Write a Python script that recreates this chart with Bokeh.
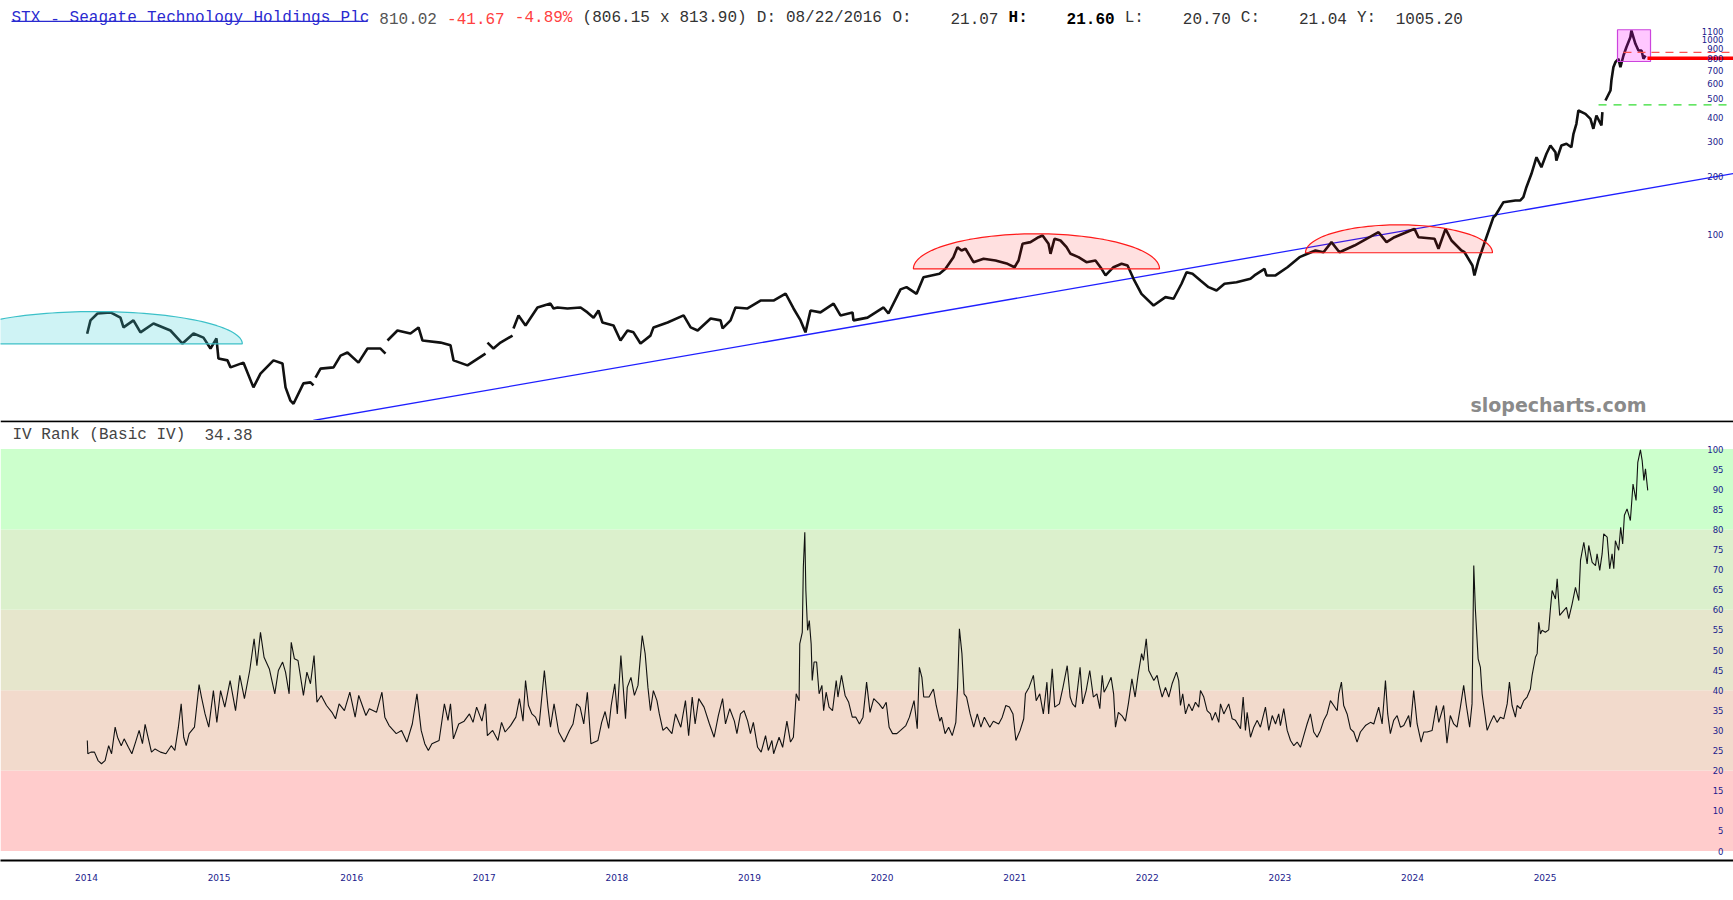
import math
import re
import numpy as np
from bokeh.plotting import figure
from bokeh.layouts import column
from bokeh.models import Range1d, BoxAnnotation, Span, FixedTicker
from bokeh.core.properties import value
from bokeh.embed import file_html
from bokeh.resources import INLINE

nan = float("nan")

# ---------------- data ----------------
price_points = [
    (2014.005, 31.1), (2014.030, 36.4), (2014.083, 39.5), (2014.181, 40.0), (2014.256, 37.6),
    (2014.279, 33.5), (2014.354, 36.4), (2014.407, 31.6), (2014.505, 35.1), (2014.633, 32.3),
    (2014.724, 27.7), (2014.807, 31.2), (2014.882, 29.7), (2014.935, 26.1), (2014.980, 29.4),
    (2014.995, 23.2), (2015.063, 22.7), (2015.086, 20.9), (2015.184, 22.1), (2015.259, 16.5),
    (2015.312, 19.4), (2015.410, 22.7), (2015.478, 21.9), (2015.501, 16.5), (2015.538, 14.1),
    (2015.561, 13.6), (2015.636, 17.3), (2015.689, 17.5), (2015.712, 16.9), (nan, nan),
    (2015.727, 18.5), (2015.765, 20.6), (2015.863, 20.9), (2015.916, 24.0), (2015.968, 24.9),
    (2016.051, 22.1), (2016.119, 26.1), (2016.217, 26.1), (2016.255, 24.6), (nan, nan),
    (2016.270, 28.7), (2016.345, 32.3), (2016.443, 31.2), (2016.504, 33.5), (2016.534, 28.7),
    (2016.670, 28.0), (2016.745, 27.1), (2016.768, 22.7), (2016.873, 21.4), (2017.009, 24.6),
    (nan, nan),
    (2017.024, 28.0), (2017.069, 26.1), (2017.122, 28.0), (2017.213, 30.4), (nan, nan),
    (2017.220, 33.1), (2017.258, 38.6), (2017.311, 34.3), (2017.401, 42.4), (2017.499, 44.4),
    (2017.522, 41.9), (2017.552, 42.4), (2017.627, 41.9), (2017.726, 42.4), (2017.778, 40.0),
    (2017.824, 37.6), (2017.861, 40.9), (2017.891, 35.5), (2017.974, 34.3), (2018.027, 28.7),
    (2018.080, 32.3), (2018.125, 31.6), (2018.178, 27.7), (2018.253, 30.4), (2018.276, 33.5),
    (2018.382, 35.5), (2018.503, 38.6), (2018.556, 33.5), (2018.609, 32.3), (2018.707, 37.2),
    (2018.782, 36.4), (2018.797, 33.1), (2018.857, 36.4), (2018.894, 42.4), (2018.985, 41.9),
    (2019.083, 46.0), (2019.181, 46.0), (2019.272, 50.0), (2019.332, 41.9), (2019.385, 36.4),
    (2019.422, 31.6), (2019.460, 40.9), (2019.535, 40.0), (2019.634, 44.4), (2019.686, 38.6),
    (2019.777, 40.0), (2019.784, 36.4), (2019.890, 37.6), (2020.011, 42.4), (2020.048, 39.5),
    (2020.139, 52.5), (2020.184, 53.9), (2020.260, 49.8), (2020.312, 60.6), (2020.433, 63.1),
    (2020.478, 66.9), (2020.538, 76.8), (2020.568, 86.4), (2020.599, 83.1), (2020.629, 84.8),
    (2020.689, 72.4), (2020.765, 75.3), (2020.855, 73.8), (2020.946, 71.0), (2020.999, 68.2),
    (2021.029, 73.8), (2021.059, 89.9), (2021.119, 91.7), (2021.180, 97.2), (2021.210, 99.2),
    (2021.255, 89.9), (2021.270, 79.9), (2021.300, 95.4), (2021.345, 93.5), (2021.391, 86.4),
    (2021.421, 79.9), (2021.481, 76.8), (2021.541, 72.4), (2021.609, 73.8), (2021.655, 66.9),
    (2021.685, 61.9), (2021.745, 68.2), (2021.806, 71.0), (2021.851, 69.6), (2021.896, 59.5),
    (2021.956, 49.8), (2022.047, 43.4), (2022.137, 47.9), (2022.198, 47.0), (2022.258, 56.1),
    (2022.296, 64.3), (2022.341, 63.1), (2022.401, 58.3), (2022.462, 53.9), (2022.522, 51.8),
    (2022.582, 56.1), (2022.673, 57.1), (2022.778, 59.5), (2022.808, 61.9), (2022.884, 66.9),
    (2022.899, 61.9), (2022.967, 61.9), (2023.057, 68.2), (2023.148, 76.8), (2023.208, 79.9),
    (2023.268, 83.1), (2023.329, 81.4), (2023.389, 91.7), (2023.449, 81.4), (2023.562, 88.1),
    (2023.653, 95.4), (2023.744, 103.1), (2023.804, 91.7), (2023.864, 97.2), (2023.985, 105.2),
    (2024.015, 107.3), (2024.045, 97.2), (2024.166, 95.4), (2024.196, 84.8), (2024.249, 107.3),
    (2024.294, 93.5), (2024.369, 83.1), (2024.392, 81.4), (2024.452, 69.6), (2024.467, 61.9),
    (2024.497, 73.8), (2024.519, 81.4), (2024.549, 93.5), (2024.610, 123.1), (2024.625, 125.6),
    (2024.648, 133.2), (2024.686, 147.0), (2024.776, 150.0), (2024.813, 150.0), (2024.836, 155.9),
    (2024.859, 175.4), (2024.897, 205.5), (2024.935, 250.0), (2024.972, 222.2), (2025.010, 260.3),
    (2025.040, 287.1), (2025.078, 265.2), (2025.085, 240.4), (2025.123, 287.1), (2025.161, 292.9),
    (2025.198, 281.4), (2025.214, 329.6), (2025.236, 370.9), (2025.251, 434.0), (2025.304, 417.4),
    (2025.342, 393.5), (2025.364, 349.6), (2025.387, 409.1), (2025.425, 363.5), (2025.432, 425.4),
    (nan, nan),
    (2025.455, 488.3), (2025.493, 549.5), (2025.500, 618.4), (2025.515, 723.6), (2025.530, 767.6),
    (2025.553, 799.1), (2025.568, 723.6), (2025.591, 830.9), (2025.613, 916.5), (2025.643, 1031.0),
    (2025.651, 1116.0), (2025.681, 953.9), (2025.704, 881.2), (2025.727, 881.2), (2025.742, 799.1),
    (2025.757, 830.9),
]

iv_points = [
    (2014.006, 27.5), (2014.010, 24.2), (2014.033, 24.6), (2014.060, 24.6), (2014.087, 22.5),
    (2014.113, 21.7), (2014.140, 22.5), (2014.167, 26.2), (2014.189, 24.2), (2014.216, 30.8),
    (2014.234, 28.3), (2014.262, 26.2), (2014.284, 27.9), (2014.316, 25.8), (2014.342, 24.2),
    (2014.370, 27.1), (2014.397, 30.0), (2014.422, 26.7), (2014.442, 31.5), (2014.464, 28.3),
    (2014.490, 24.6), (2014.517, 25.4), (2014.558, 24.6), (2014.599, 24.2), (2014.639, 26.2),
    (2014.666, 25.0), (2014.693, 30.8), (2014.714, 36.6), (2014.733, 28.3), (2014.752, 26.2),
    (2014.774, 29.2), (2014.814, 30.8), (2014.849, 41.4), (2014.867, 38.3), (2014.894, 34.1),
    (2014.922, 30.8), (2014.957, 39.9), (2014.983, 32.0), (2015.011, 39.9), (2015.043, 35.8),
    (2015.083, 42.4), (2015.124, 34.9), (2015.156, 43.7), (2015.191, 37.9), (2015.231, 44.9),
    (2015.264, 52.8), (2015.285, 46.1), (2015.312, 54.4), (2015.339, 48.2), (2015.379, 45.3),
    (2015.420, 39.1), (2015.447, 44.9), (2015.479, 47.0), (2015.501, 44.5), (2015.528, 39.1),
    (2015.544, 51.9), (2015.568, 47.8), (2015.595, 47.4), (2015.636, 38.7), (2015.662, 44.5),
    (2015.689, 41.6), (2015.716, 48.6), (2015.738, 37.0), (2015.770, 38.7), (2015.810, 36.2),
    (2015.851, 34.5), (2015.878, 32.9), (2015.905, 36.6), (2015.945, 34.9), (2015.986, 39.5),
    (2016.026, 33.3), (2016.053, 38.7), (2016.080, 36.2), (2016.107, 33.7), (2016.133, 35.4),
    (2016.187, 34.5), (2016.228, 39.5), (2016.250, 33.3), (2016.282, 31.2), (2016.336, 29.2),
    (2016.376, 30.0), (2016.416, 27.1), (2016.457, 31.6), (2016.492, 39.1), (2016.524, 30.0),
    (2016.551, 26.7), (2016.578, 25.0), (2016.605, 26.7), (2016.659, 27.5), (2016.699, 36.6),
    (2016.726, 32.5), (2016.745, 36.6), (2016.767, 27.9), (2016.807, 31.6), (2016.848, 32.3),
    (2016.888, 34.1), (2016.915, 32.0), (2016.942, 35.8), (2016.982, 32.3), (2017.009, 36.6),
    (2017.023, 28.7), (2017.063, 30.0), (2017.103, 27.5), (2017.130, 32.0), (2017.157, 29.6),
    (2017.198, 31.2), (2017.238, 33.3), (2017.265, 37.9), (2017.292, 32.3), (2017.311, 42.4),
    (2017.333, 36.2), (2017.359, 34.1), (2017.386, 33.3), (2017.413, 31.2), (2017.453, 44.9),
    (2017.480, 35.8), (2017.499, 30.8), (2017.526, 36.6), (2017.561, 29.6), (2017.602, 27.1),
    (2017.642, 30.0), (2017.669, 31.6), (2017.696, 36.6), (2017.722, 35.8), (2017.750, 31.6),
    (2017.777, 39.5), (2017.804, 26.7), (2017.857, 27.5), (2017.885, 32.0), (2017.911, 34.7),
    (2017.938, 30.5), (2017.957, 36.2), (2017.984, 41.6), (2018.003, 34.1), (2018.030, 48.6),
    (2018.065, 32.9), (2018.078, 40.7), (2018.106, 43.2), (2018.132, 38.7), (2018.159, 41.2),
    (2018.191, 53.6), (2018.213, 49.1), (2018.234, 40.7), (2018.253, 34.9), (2018.275, 39.9),
    (2018.302, 37.4), (2018.320, 34.1), (2018.347, 30.0), (2018.375, 30.8), (2018.415, 29.2),
    (2018.442, 34.1), (2018.482, 30.8), (2018.517, 37.4), (2018.541, 28.7), (2018.568, 38.3),
    (2018.590, 31.6), (2018.617, 37.9), (2018.657, 35.8), (2018.698, 31.6), (2018.733, 28.3),
    (2018.765, 33.7), (2018.797, 37.9), (2018.819, 31.6), (2018.851, 35.4), (2018.886, 32.3),
    (2018.905, 29.2), (2018.932, 34.1), (2018.959, 34.9), (2018.986, 32.3), (2019.007, 29.2),
    (2019.029, 32.0), (2019.061, 25.8), (2019.088, 24.6), (2019.121, 28.7), (2019.142, 25.0),
    (2019.169, 27.5), (2019.182, 24.2), (2019.223, 28.3), (2019.250, 25.8), (2019.282, 32.3),
    (2019.309, 27.1), (2019.331, 28.3), (2019.352, 39.1), (2019.374, 37.4), (2019.379, 51.5),
    (2019.398, 54.4), (2019.406, 70.6), (2019.417, 79.3), (2019.425, 64.8), (2019.438, 54.9),
    (2019.451, 57.3), (2019.465, 51.5), (2019.473, 42.4), (2019.487, 47.0), (2019.506, 47.0),
    (2019.525, 39.1), (2019.546, 41.2), (2019.559, 34.9), (2019.578, 39.5), (2019.600, 35.8),
    (2019.626, 34.9), (2019.654, 42.4), (2019.667, 38.3), (2019.694, 43.7), (2019.721, 38.7),
    (2019.748, 37.0), (2019.775, 33.3), (2019.802, 33.3), (2019.829, 31.6), (2019.856, 33.3),
    (2019.883, 42.0), (2019.909, 34.5), (2019.937, 37.9), (2019.977, 36.6), (2020.004, 35.4),
    (2020.031, 37.0), (2020.053, 30.8), (2020.079, 29.2), (2020.111, 29.2), (2020.139, 30.0),
    (2020.179, 31.2), (2020.206, 33.3), (2020.241, 37.4), (2020.265, 30.4), (2020.281, 45.7),
    (2020.300, 43.2), (2020.314, 38.3), (2020.354, 38.3), (2020.387, 40.3), (2020.408, 36.2),
    (2020.435, 32.3), (2020.448, 33.3), (2020.475, 29.2), (2020.502, 30.8), (2020.529, 28.7),
    (2020.556, 32.0), (2020.569, 40.7), (2020.583, 55.3), (2020.602, 49.1), (2020.618, 39.1),
    (2020.637, 38.3), (2020.664, 34.1), (2020.691, 30.8), (2020.718, 34.1), (2020.745, 30.8),
    (2020.771, 33.3), (2020.812, 30.8), (2020.839, 32.3), (2020.879, 31.6), (2020.906, 33.3),
    (2020.933, 36.2), (2020.960, 35.8), (2020.987, 34.1), (2021.009, 27.5), (2021.041, 30.0),
    (2021.068, 32.9), (2021.081, 39.1), (2021.108, 40.7), (2021.141, 43.7), (2021.162, 37.4),
    (2021.189, 39.1), (2021.216, 34.1), (2021.243, 42.0), (2021.256, 34.1), (2021.283, 45.3),
    (2021.302, 35.8), (2021.337, 36.6), (2021.364, 40.7), (2021.396, 46.1), (2021.418, 38.3),
    (2021.436, 36.6), (2021.458, 35.8), (2021.493, 45.7), (2021.512, 36.6), (2021.539, 39.9),
    (2021.566, 44.9), (2021.593, 38.3), (2021.620, 39.1), (2021.642, 35.4), (2021.660, 43.7),
    (2021.674, 39.5), (2021.700, 41.2), (2021.727, 43.2), (2021.746, 39.1), (2021.760, 30.8),
    (2021.782, 34.5), (2021.808, 33.7), (2021.835, 32.3), (2021.857, 36.6), (2021.884, 42.8),
    (2021.908, 38.3), (2021.930, 43.7), (2021.957, 49.1), (2021.971, 47.4), (2021.992, 52.8),
    (2022.011, 44.9), (2022.037, 43.2), (2022.049, 42.4), (2022.074, 43.7), (2022.087, 41.6),
    (2022.112, 38.3), (2022.137, 40.7), (2022.162, 38.3), (2022.187, 41.6), (2022.220, 44.5),
    (2022.237, 42.4), (2022.250, 36.2), (2022.267, 39.1), (2022.288, 34.1), (2022.313, 36.6),
    (2022.338, 34.9), (2022.363, 37.0), (2022.388, 35.8), (2022.401, 39.9), (2022.426, 38.3),
    (2022.451, 34.9), (2022.476, 34.1), (2022.489, 32.5), (2022.514, 34.5), (2022.539, 32.0),
    (2022.552, 36.6), (2022.577, 34.1), (2022.614, 36.6), (2022.640, 32.9), (2022.665, 32.5),
    (2022.703, 30.4), (2022.723, 38.3), (2022.740, 30.0), (2022.753, 34.5), (2022.778, 28.3),
    (2022.803, 30.8), (2022.829, 32.5), (2022.853, 30.8), (2022.891, 35.8), (2022.916, 30.0),
    (2022.942, 33.7), (2022.967, 31.6), (2022.991, 34.1), (2023.004, 31.2), (2023.029, 35.4),
    (2023.055, 30.0), (2023.080, 27.5), (2023.105, 26.2), (2023.130, 27.1), (2023.155, 25.8),
    (2023.180, 28.7), (2023.205, 31.6), (2023.230, 34.1), (2023.255, 29.6), (2023.281, 28.3),
    (2023.306, 30.0), (2023.331, 32.5), (2023.356, 34.1), (2023.381, 37.4), (2023.406, 36.2),
    (2023.432, 34.9), (2023.444, 39.1), (2023.464, 42.0), (2023.481, 36.2), (2023.507, 34.1),
    (2023.532, 30.4), (2023.557, 29.6), (2023.582, 27.1), (2023.607, 29.6), (2023.645, 31.2),
    (2023.683, 32.0), (2023.708, 31.6), (2023.745, 35.8), (2023.771, 31.6), (2023.796, 42.4),
    (2023.813, 34.1), (2023.833, 29.2), (2023.858, 32.5), (2023.884, 33.7), (2023.909, 30.8),
    (2023.934, 31.2), (2023.971, 33.7), (2023.984, 30.8), (2024.009, 39.9), (2024.035, 31.6),
    (2024.065, 27.1), (2024.085, 29.6), (2024.110, 29.6), (2024.148, 30.0), (2024.180, 36.2),
    (2024.198, 32.0), (2024.235, 36.2), (2024.260, 26.8), (2024.285, 33.7), (2024.311, 31.6),
    (2024.336, 30.8), (2024.361, 35.8), (2024.386, 41.2), (2024.406, 36.2), (2024.431, 30.8),
    (2024.449, 36.6), (2024.462, 71.0), (2024.474, 60.2), (2024.495, 47.8), (2024.512, 45.7),
    (2024.525, 39.1), (2024.537, 36.2), (2024.563, 30.0), (2024.588, 32.0), (2024.613, 33.7),
    (2024.638, 32.0), (2024.663, 33.3), (2024.688, 32.9), (2024.714, 36.6), (2024.731, 42.0),
    (2024.751, 36.2), (2024.776, 33.3), (2024.789, 36.2), (2024.814, 35.4), (2024.839, 37.4),
    (2024.864, 38.3), (2024.889, 40.3), (2024.902, 43.7), (2024.927, 48.2), (2024.940, 49.1),
    (2024.952, 56.9), (2024.965, 54.0), (2024.977, 54.9), (2025.002, 54.4), (2025.027, 55.0),
    (2025.041, 60.6), (2025.053, 64.8), (2025.078, 62.7), (2025.091, 67.7), (2025.110, 58.6),
    (2025.140, 59.8), (2025.161, 60.6), (2025.178, 57.8), (2025.204, 61.5), (2025.229, 65.6),
    (2025.254, 62.3), (2025.267, 72.3), (2025.292, 76.8), (2025.317, 71.4), (2025.329, 76.0),
    (2025.355, 71.8), (2025.380, 71.0), (2025.392, 73.9), (2025.412, 69.8), (2025.430, 73.9),
    (2025.442, 78.9), (2025.468, 78.1), (2025.487, 70.2), (2025.505, 73.9), (2025.518, 70.2),
    (2025.530, 77.2), (2025.555, 74.8), (2025.570, 80.5), (2025.585, 76.4), (2025.598, 83.5),
    (2025.618, 85.1), (2025.643, 82.2), (2025.663, 91.3), (2025.686, 87.2), (2025.699, 96.7),
    (2025.719, 99.8), (2025.732, 97.1), (2025.745, 92.2), (2025.757, 95.1), (2025.774, 89.7),
]

years = [2014, 2015, 2016, 2017, 2018, 2019, 2020, 2021, 2022, 2023, 2024, 2025]
price_ticks = [100, 200, 300, 400, 500, 600, 700, 800, 900, 1000, 1100]
iv_ticks = [0, 5, 10, 15, 20, 25, 30, 35, 40, 45, 50, 55, 60, 65, 70, 75, 80, 85, 90, 95, 100]
band_edges = [0, 20, 40, 60, 80, 100]

trend_t = [2015.71, 2026.42]
trend_v = [11.16, 206.0]

arc_cx = [2014.066, 2021.164, 2023.898]
arc_hw = [1.109, 0.928, 0.705]
arc_bottom = [27.6, 66.9, 80.9]
arc_top = [40.4, 101.2, 112.5]

box_t = [2025.546, 2025.795]
box_v = [774.0, 1126.0]

resist_t, resist_v = 2025.591, 862.0
support_t, support_v = 2025.772, 805.0
green_t, green_v = 2025.403, 464.0

title_text = ("STX - Seagate Technology Holdings Plc 810.02 -41.67 -4.89% (806.15 x 813.90) "
              "D: 08/22/2016 O:    21.07 H:    21.60 L:    20.70 C:    21.04 Y:  1005.20")
name_len = 37
iv_title = "IV Rank (Basic IV)  34.38"
watermark = "slopecharts.com"

# ---------------- styles ----------------
band_colors = ["#ffcccc", "#f2dacc", "#e6e6cc", "#dbf0cc", "#ccffcc"]
arc_fill = ["#3fcfd7", "#ff0000", "#ff0000"]
arc_alpha = [0.25, 0.12, 0.12]
arc_line = ["#3cc0c8", "#ff1a1a", "#ff1a1a"]
TICK_COLOR = "#1a1a8c"
MONO = "Liberation Mono"

W, H1, H2, BOTTOM = 1733, 420, 480, 40
X0 = 2013.3514
X1 = X0 + W / 132.6
P0, P1 = 11.16, 1591.0
V0, V1 = -2.36, 107.09
CHAR = 9.68
TX = 11


def xpx(px):
    return X0 + px * (X1 - X0) / W


def p1y(py):
    return 10 ** (math.log10(P1) - py / H1 * (math.log10(P1) - math.log10(P0)))


def p2y(py):
    return V1 - py / (H2 - BOTTOM) * (V1 - V0)


def title_style(i):
    if i < name_len:
        return "#2a2ad0", "normal"
    if i < 45:
        return "#555555", "normal"
    if i < 59:
        return "#ff4040", "normal"
    if 103 <= i < 115:
        return "#000000", "bold"
    return "#333333", "normal"


# ---------------- price panel ----------------
xr = Range1d(X0, X1)
p1 = figure(width=W, height=H1, x_range=xr, y_range=Range1d(P0, P1), y_axis_type="log",
            x_axis_location=None, y_axis_location=None, output_backend="svg",
            toolbar_location=None, min_border=0, outline_line_color=None,
            background_fill_color="white", border_fill_color="white")
p1.grid.visible = False

p1.line(trend_t, trend_v, line_color="#1f1fff", line_width=1.3)

pt = [a for a, b in price_points]
pv = [b for a, b in price_points]
p1.line(pt, pv, line_color="#111111", line_width=2.6)

theta = np.linspace(0, np.pi, 80)
for cx, hw, lo, hi, fc, fa, lc in zip(arc_cx, arc_hw, arc_bottom, arc_top, arc_fill, arc_alpha, arc_line):
    xs = cx + hw * np.cos(theta)
    ly = math.log10(lo) + (math.log10(hi) - math.log10(lo)) * np.sin(theta)
    p1.patch(list(xs), list(10 ** ly), fill_color=fc, fill_alpha=fa, line_color=lc, line_width=1.2)

p1.quad(left=[box_t[0]], right=[box_t[1]], bottom=[box_v[0]], top=[box_v[1]],
        fill_color="#ff00ff", fill_alpha=0.22, line_color="#cc44dd", line_width=1.2)

p1.line([resist_t, X1], [resist_v, resist_v], line_color="#ff5050", line_width=1.2, line_dash="8 6")
p1.line([green_t, X1], [green_v, green_v], line_color="#33dd33", line_width=1.3, line_dash="8 7")
p1.line([support_t, X1], [support_v, support_v], line_color="#ff0000", line_width=3.5)

# right-side price labels
p1.text(x=[xpx(W - 10)] * len(price_ticks), y=price_ticks, text=[str(t) for t in price_ticks],
        text_align="right", text_baseline="middle", text_font=value("DejaVu Sans"),
        text_font_size="8.5px", text_color=TICK_COLOR)

# title, one token per word so that the monospace spacing is kept
tok_x, tok_y, tok_t, tok_c, tok_s = [], [], [], [], []
for m in re.finditer(r"\S+", title_text):
    c, s = title_style(m.start())
    tok_x.append(xpx(TX + m.start() * CHAR))
    tok_y.append(p1y(17.5))
    tok_t.append(m.group())
    tok_c.append(c)
    tok_s.append(s)
for style in ("normal", "bold"):
    idx = [i for i, s in enumerate(tok_s) if s == style]
    p1.text(x=[tok_x[i] for i in idx], y=[tok_y[i] for i in idx], text=[tok_t[i] for i in idx],
            text_color=[tok_c[i] for i in idx], text_align="left", text_baseline="alphabetic",
            text_font=value(MONO), text_font_size="16px", text_font_style=style)
p1.segment(x0=[xpx(TX)], y0=[p1y(20.8)], x1=[xpx(TX + name_len * CHAR - 2)], y1=[p1y(20.8)],
           line_color="#2a2ad0", line_width=1.2)

p1.text(x=[xpx(1646)], y=[p1y(404)], text=[watermark], text_align="right", text_baseline="middle",
        text_font=value("DejaVu Sans"), text_font_style="bold", text_font_size="19px",
        text_color="#8a8a8a")

# ---------------- IV panel ----------------
p2 = figure(width=W, height=H2, x_range=xr, y_range=Range1d(V0, V1),
            x_axis_location="below", y_axis_location=None, output_backend="svg",
            toolbar_location=None, min_border_left=0, min_border_right=0, min_border_top=0,
            min_border_bottom=BOTTOM, outline_line_color=None,
            background_fill_color="white", border_fill_color="white")
p2.grid.visible = False

for lo, hi, c in zip(band_edges[:-1], band_edges[1:], band_colors):
    p2.add_layout(BoxAnnotation(bottom=lo, top=hi, fill_color=c, fill_alpha=1.0,
                                line_color=None, level="underlay"))

it = [a for a, b in iv_points]
iv = [b for a, b in iv_points]
p2.line(it, iv, line_color="#111111", line_width=1.1)

p2.add_layout(Span(location=V1 - 0.8 / 4.02, dimension="width", line_color="black", line_width=2))

p2.text(x=[xpx(W - 10)] * len(iv_ticks), y=iv_ticks, text=[str(t) for t in iv_ticks],
        text_align="right", text_baseline="middle", text_font=value("DejaVu Sans"),
        text_font_size="8.5px", text_color=TICK_COLOR)

iv_tok_x, iv_tok_t = [], []
for m in re.finditer(r"\S+", iv_title):
    iv_tok_x.append(xpx(12 + m.start() * 9.6))
    iv_tok_t.append(m.group())
p2.text(x=iv_tok_x, y=[p2y(14)] * len(iv_tok_x), text=iv_tok_t, text_align="left",
        text_baseline="middle", text_font=value(MONO), text_font_size="16px", text_color="#444444")

ax = p2.xaxis[0]
ax.ticker = FixedTicker(ticks=years)
ax.major_label_overrides = {y: str(y) for y in years}
ax.axis_line_color = "black"
ax.axis_line_width = 2
ax.major_tick_line_color = None
ax.minor_tick_line_color = None
ax.major_tick_out = 0
ax.major_tick_in = 0
ax.minor_tick_out = 0
ax.minor_tick_in = 0
ax.major_label_standoff = 13
ax.major_label_text_font = "DejaVu Sans"
ax.major_label_text_font_size = "9px"
ax.major_label_text_color = TICK_COLOR

layout = column(p1, p2, spacing=0)
open("out.html", "w").write(file_html(layout, INLINE, title="STX"))
